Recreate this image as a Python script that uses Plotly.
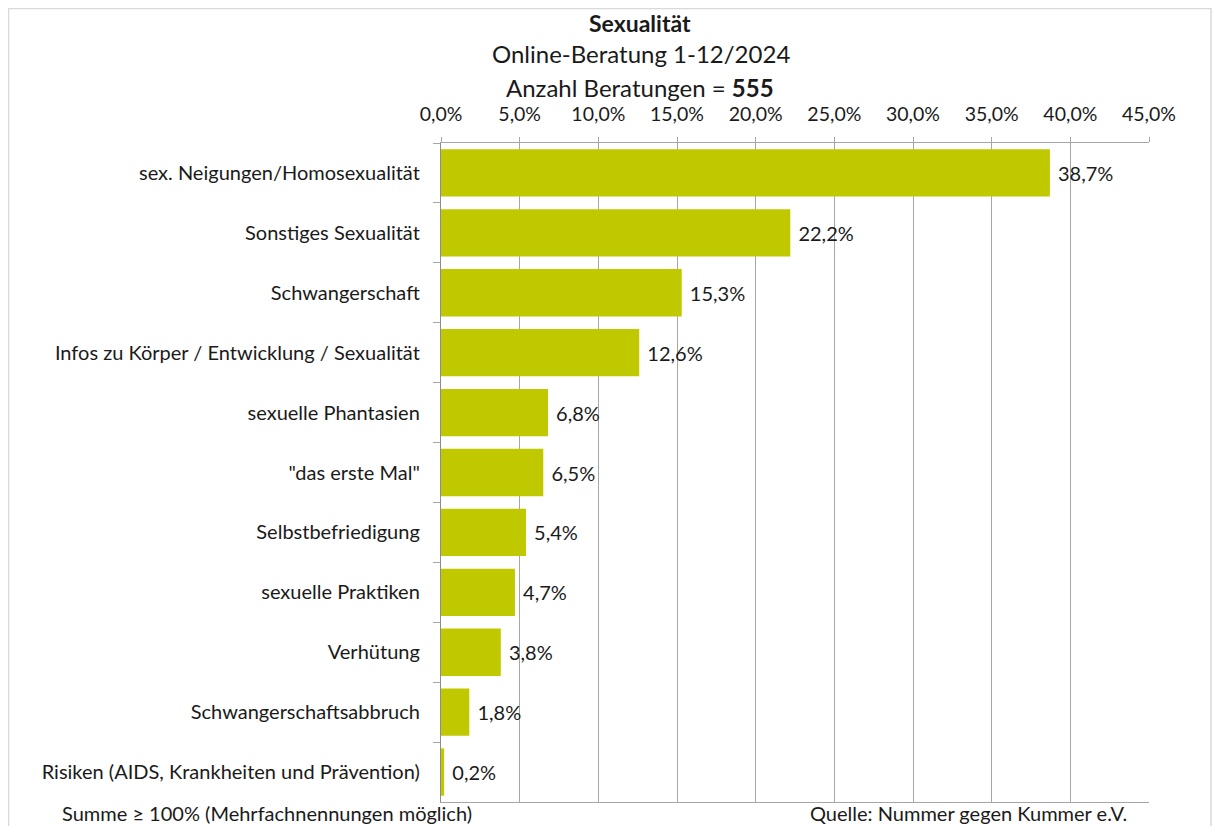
import plotly.graph_objects as go

categories = [
    "sex. Neigungen/Homosexualität",
    "Sonstiges Sexualität",
    "Schwangerschaft",
    "Infos zu Körper / Entwicklung / Sexualität",
    "sexuelle Phantasien",
    "\"das erste Mal\"",
    "Selbstbefriedigung",
    "sexuelle Praktiken",
    "Verhütung",
    "Schwangerschaftsabbruch",
    "Risiken (AIDS, Krankheiten und Prävention)",
]
values = [38.7, 22.2, 15.3, 12.6, 6.8, 6.5, 5.4, 4.7, 3.8, 1.8, 0.2]
tick_vals = [0, 5, 10, 15, 20, 25, 30, 35, 40, 45]
tick_text = ["0,0%", "5,0%", "10,0%", "15,0%", "20,0%", "25,0%", "30,0%", "35,0%", "40,0%", "45,0%"]
labels = [" " + f"{v:.1f}".replace(".", ",") + "%" for v in values]

OFF = 8  # page body margin
W, H = 1220 - OFF, 826 - OFF
# plot area in window pixel coordinates
L, R, T, B = 441, 1149, 143, 802
FONT = "Lato"
TXT = "#1a1a1a"
GRID = "#a6a6a6"

def px(x):
    return (x - L) / (R - L)

def py(y):
    return (B - y) / (B - T)

fig = go.Figure(go.Bar(
    x=values, y=categories, orientation="h",
    marker=dict(color="#c0c900", line=dict(width=0)),
    text=labels, textposition="outside", cliponaxis=False,
    textfont=dict(family=FONT, size=20, color=TXT),
    hoverinfo="skip",
))

fig.update_layout(
    width=W, height=H,
    margin=dict(l=L - OFF, r=1220 - R, t=T - OFF, b=826 - B, autoexpand=False),
    paper_bgcolor="white", plot_bgcolor="white",
    bargap=0.21, showlegend=False,
    font=dict(family=FONT, size=20, color=TXT),
    xaxis=dict(
        side="top", range=[0, 45], tickvals=tick_vals, ticktext=tick_text,
        showgrid=True, gridcolor=GRID, gridwidth=1.3,
        showline=True, linecolor=GRID, linewidth=1.3, mirror=True,
        ticks="outside", ticklen=5, tickcolor=GRID, tickwidth=1.3,
        zeroline=False, tickfont=dict(family=FONT, size=19.5, color=TXT),
        ticklabelstandoff=8,
        fixedrange=True, automargin=False,
    ),
    yaxis=dict(
        categoryorder="array", categoryarray=categories, autorange="reversed",
        showgrid=False, showline=True, linecolor="#8c8c8c", linewidth=1.3, mirror=False,
        ticks="outside", tickson="boundaries", ticklen=7, tickcolor=GRID, tickwidth=1.3,
        tickfont=dict(family=FONT, size=20, color=TXT), ticklabelstandoff=16,
        fixedrange=True, automargin=False,
    ),
    shapes=[
        dict(type="rect", xref="paper", yref="paper",
             x0=px(8.5), x1=px(1211), y0=py(840), y1=py(8.5),
             line=dict(color="#d9d9d9", width=1.5), fillcolor="rgba(0,0,0,0)", layer="below"),
    ],
    annotations=[
        dict(text="<b>Sexualität</b>", x=px(640), y=py(23), xref="paper", yref="paper",
             xanchor="center", yanchor="middle",
             showarrow=False, font=dict(family=FONT, size=23, color=TXT)),
        dict(text="Online-Beratung 1-12/2024", x=px(641), y=py(54), xref="paper", yref="paper",
             xanchor="center", yanchor="middle",
             showarrow=False, font=dict(family=FONT, size=24, color=TXT)),
        dict(text="Anzahl Beratungen = <b>555</b>", x=px(640), y=py(87), xref="paper", yref="paper",
             xanchor="center", yanchor="middle",
             showarrow=False, font=dict(family=FONT, size=24, color=TXT)),
        dict(text="Summe ≥ 100% (Mehrfachnennungen möglich)", x=px(60), y=py(813), xref="paper", yref="paper",
             xanchor="left", yanchor="middle", showarrow=False, font=dict(family=FONT, size=20, color=TXT)),
        dict(text="Quelle: Nummer gegen Kummer e.V.", x=px(808), y=py(813), xref="paper", yref="paper",
             xanchor="left", yanchor="middle", showarrow=False, font=dict(family=FONT, size=20, color=TXT)),
    ],
)

fig.write_html("out.html")
